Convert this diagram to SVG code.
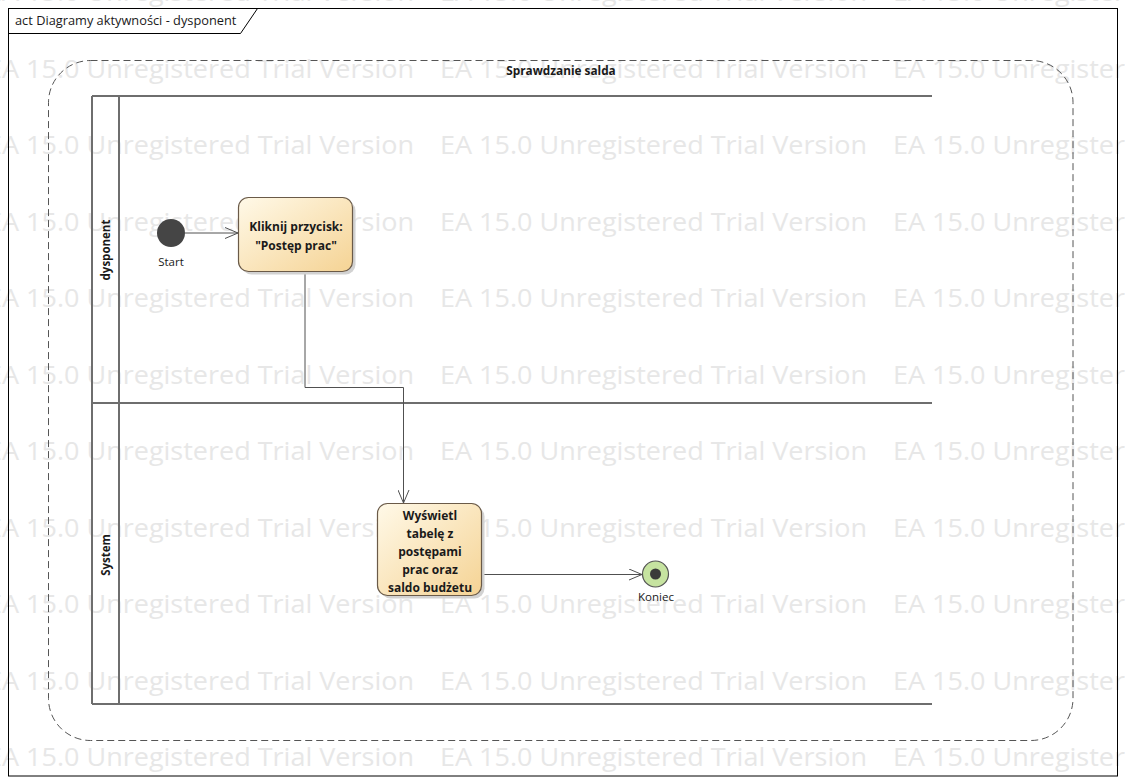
<svg xmlns="http://www.w3.org/2000/svg" width="1125" height="784" viewBox="0 0 1125 784">
<style>
.wm{font-family:"Open Sans","DejaVu Sans",sans-serif;font-size:26px;fill:#e7e7e7}
.lbl{font-family:"Open Sans","DejaVu Sans",sans-serif;font-size:11px;fill:#1a1a1a}
.bold{font-weight:bold}
.ntxt{font-family:"Open Sans","DejaVu Sans",sans-serif;font-size:12px;font-weight:bold;fill:#1a1a1a;text-anchor:middle}
.lane{stroke:#6e6e6e;stroke-width:2;fill:none}
.conn{stroke:#505050;stroke-width:1;fill:none}
.act{stroke:#6a5a48;stroke-width:1.2;fill:url(#g)}
.shadow{fill:#d2d2d2}
</style>
<defs>
<linearGradient id="g" x1="0" y1="0" x2="1" y2="1">
<stop offset="0" stop-color="#fff9e8"/>
<stop offset="1" stop-color="#f5d394"/>
</linearGradient>
<marker id="arr" viewBox="0 0 14 12" refX="13" refY="6" markerWidth="14" markerHeight="12" markerUnits="userSpaceOnUse" orient="auto">
<path d="M0,0.5 L13,6 L0,11.5" fill="none" stroke="#505050" stroke-width="1"/>
</marker>
</defs>
<rect x="0" y="0" width="1125" height="784" fill="#ffffff"/>
<g id="watermark">
<text class="wm" x="-13" y="1" textLength="427" lengthAdjust="spacingAndGlyphs">EA 15.0 Unregistered Trial Version</text>
<text class="wm" x="440" y="1" textLength="427" lengthAdjust="spacingAndGlyphs">EA 15.0 Unregistered Trial Version</text>
<text class="wm" x="893" y="1" textLength="427" lengthAdjust="spacingAndGlyphs">EA 15.0 Unregistered Trial Version</text>
<text class="wm" x="-13" y="77.5" textLength="427" lengthAdjust="spacingAndGlyphs">EA 15.0 Unregistered Trial Version</text>
<text class="wm" x="440" y="77.5" textLength="427" lengthAdjust="spacingAndGlyphs">EA 15.0 Unregistered Trial Version</text>
<text class="wm" x="893" y="77.5" textLength="427" lengthAdjust="spacingAndGlyphs">EA 15.0 Unregistered Trial Version</text>
<text class="wm" x="-13" y="154" textLength="427" lengthAdjust="spacingAndGlyphs">EA 15.0 Unregistered Trial Version</text>
<text class="wm" x="440" y="154" textLength="427" lengthAdjust="spacingAndGlyphs">EA 15.0 Unregistered Trial Version</text>
<text class="wm" x="893" y="154" textLength="427" lengthAdjust="spacingAndGlyphs">EA 15.0 Unregistered Trial Version</text>
<text class="wm" x="-13" y="230.5" textLength="427" lengthAdjust="spacingAndGlyphs">EA 15.0 Unregistered Trial Version</text>
<text class="wm" x="440" y="230.5" textLength="427" lengthAdjust="spacingAndGlyphs">EA 15.0 Unregistered Trial Version</text>
<text class="wm" x="893" y="230.5" textLength="427" lengthAdjust="spacingAndGlyphs">EA 15.0 Unregistered Trial Version</text>
<text class="wm" x="-13" y="307" textLength="427" lengthAdjust="spacingAndGlyphs">EA 15.0 Unregistered Trial Version</text>
<text class="wm" x="440" y="307" textLength="427" lengthAdjust="spacingAndGlyphs">EA 15.0 Unregistered Trial Version</text>
<text class="wm" x="893" y="307" textLength="427" lengthAdjust="spacingAndGlyphs">EA 15.0 Unregistered Trial Version</text>
<text class="wm" x="-13" y="383.5" textLength="427" lengthAdjust="spacingAndGlyphs">EA 15.0 Unregistered Trial Version</text>
<text class="wm" x="440" y="383.5" textLength="427" lengthAdjust="spacingAndGlyphs">EA 15.0 Unregistered Trial Version</text>
<text class="wm" x="893" y="383.5" textLength="427" lengthAdjust="spacingAndGlyphs">EA 15.0 Unregistered Trial Version</text>
<text class="wm" x="-13" y="460" textLength="427" lengthAdjust="spacingAndGlyphs">EA 15.0 Unregistered Trial Version</text>
<text class="wm" x="440" y="460" textLength="427" lengthAdjust="spacingAndGlyphs">EA 15.0 Unregistered Trial Version</text>
<text class="wm" x="893" y="460" textLength="427" lengthAdjust="spacingAndGlyphs">EA 15.0 Unregistered Trial Version</text>
<text class="wm" x="-13" y="536.5" textLength="427" lengthAdjust="spacingAndGlyphs">EA 15.0 Unregistered Trial Version</text>
<text class="wm" x="440" y="536.5" textLength="427" lengthAdjust="spacingAndGlyphs">EA 15.0 Unregistered Trial Version</text>
<text class="wm" x="893" y="536.5" textLength="427" lengthAdjust="spacingAndGlyphs">EA 15.0 Unregistered Trial Version</text>
<text class="wm" x="-13" y="613" textLength="427" lengthAdjust="spacingAndGlyphs">EA 15.0 Unregistered Trial Version</text>
<text class="wm" x="440" y="613" textLength="427" lengthAdjust="spacingAndGlyphs">EA 15.0 Unregistered Trial Version</text>
<text class="wm" x="893" y="613" textLength="427" lengthAdjust="spacingAndGlyphs">EA 15.0 Unregistered Trial Version</text>
<text class="wm" x="-13" y="689.5" textLength="427" lengthAdjust="spacingAndGlyphs">EA 15.0 Unregistered Trial Version</text>
<text class="wm" x="440" y="689.5" textLength="427" lengthAdjust="spacingAndGlyphs">EA 15.0 Unregistered Trial Version</text>
<text class="wm" x="893" y="689.5" textLength="427" lengthAdjust="spacingAndGlyphs">EA 15.0 Unregistered Trial Version</text>
<text class="wm" x="-13" y="766" textLength="427" lengthAdjust="spacingAndGlyphs">EA 15.0 Unregistered Trial Version</text>
<text class="wm" x="440" y="766" textLength="427" lengthAdjust="spacingAndGlyphs">EA 15.0 Unregistered Trial Version</text>
<text class="wm" x="893" y="766" textLength="427" lengthAdjust="spacingAndGlyphs">EA 15.0 Unregistered Trial Version</text>
</g>
<g id="frame">
<rect x="8.5" y="8.5" width="1109" height="767.5" fill="none" stroke="#000" stroke-width="1"/>
<path d="M8.5,33.5 H240.5 L257.5,8.5" fill="none" stroke="#000" stroke-width="1"/>
<text class="lbl" x="15" y="25" style="font-size:12.8px">act Diagramy aktywności - dysponent</text>
</g>
<g id="partition">
<rect x="48.5" y="60.5" width="1024.5" height="680" rx="42" ry="42" fill="none" stroke="#555" stroke-width="1" stroke-dasharray="7,4"/>
<text class="lbl bold" x="561" y="75" text-anchor="middle" style="font-size:11.8px">Sprawdzanie salda</text>
</g>
<g id="lanes">
<path class="lane" d="M92,96 V704 M119,96 V704 M92,96 H932 M92,403 H932 M92,704 H932"/>
<text class="lbl bold" transform="translate(110,250) rotate(-90)" text-anchor="middle" style="font-size:11.5px">dysponent</text>
<text class="lbl bold" transform="translate(110,555) rotate(-90)" text-anchor="middle" style="font-size:11.5px">System</text>
</g>
<g id="connectors">
<line class="conn" x1="185" y1="233" x2="238" y2="233" marker-end="url(#arr)"/>
<polyline class="conn" points="305,272 305,387.5 403.5,387.5 403.5,503" marker-end="url(#arr)"/>
<line class="conn" x1="482" y1="574.5" x2="642" y2="574.5" marker-end="url(#arr)"/>
</g>
<g id="start">
<circle cx="171" cy="233" r="14" fill="#454545"/>
<text class="lbl" x="171" y="266" text-anchor="middle" style="font-size:11.5px">Start</text>
</g>
<g id="action1">
<rect class="shadow" x="241.5" y="200.5" width="114" height="74" rx="10"/>
<rect class="act" x="238.5" y="197.5" width="114" height="74" rx="10"/>
<text class="ntxt" x="296" y="231">Kliknij przycisk:</text>
<text class="ntxt" x="296" y="250">"Postęp prac"</text>
</g>
<g id="action2">
<rect class="shadow" x="380.5" y="506.5" width="104" height="92" rx="10"/>
<rect class="act" x="377.5" y="503.5" width="104" height="92" rx="10"/>
<text class="ntxt" x="430" y="520">Wyświetl</text>
<text class="ntxt" x="430" y="538">tabelę z</text>
<text class="ntxt" x="430" y="556">postępami</text>
<text class="ntxt" x="430" y="574">prac oraz</text>
<text class="ntxt" x="430" y="592">saldo budżetu</text>
</g>
<g id="end">
<circle cx="655.5" cy="574" r="13" fill="#c6e3a0" stroke="#555" stroke-width="1.2"/>
<circle cx="655.5" cy="574" r="5.5" fill="#3a3a3a"/>
<text class="lbl" x="656" y="601" text-anchor="middle" style="font-size:11.5px">Koniec</text>
</g>
</svg>
